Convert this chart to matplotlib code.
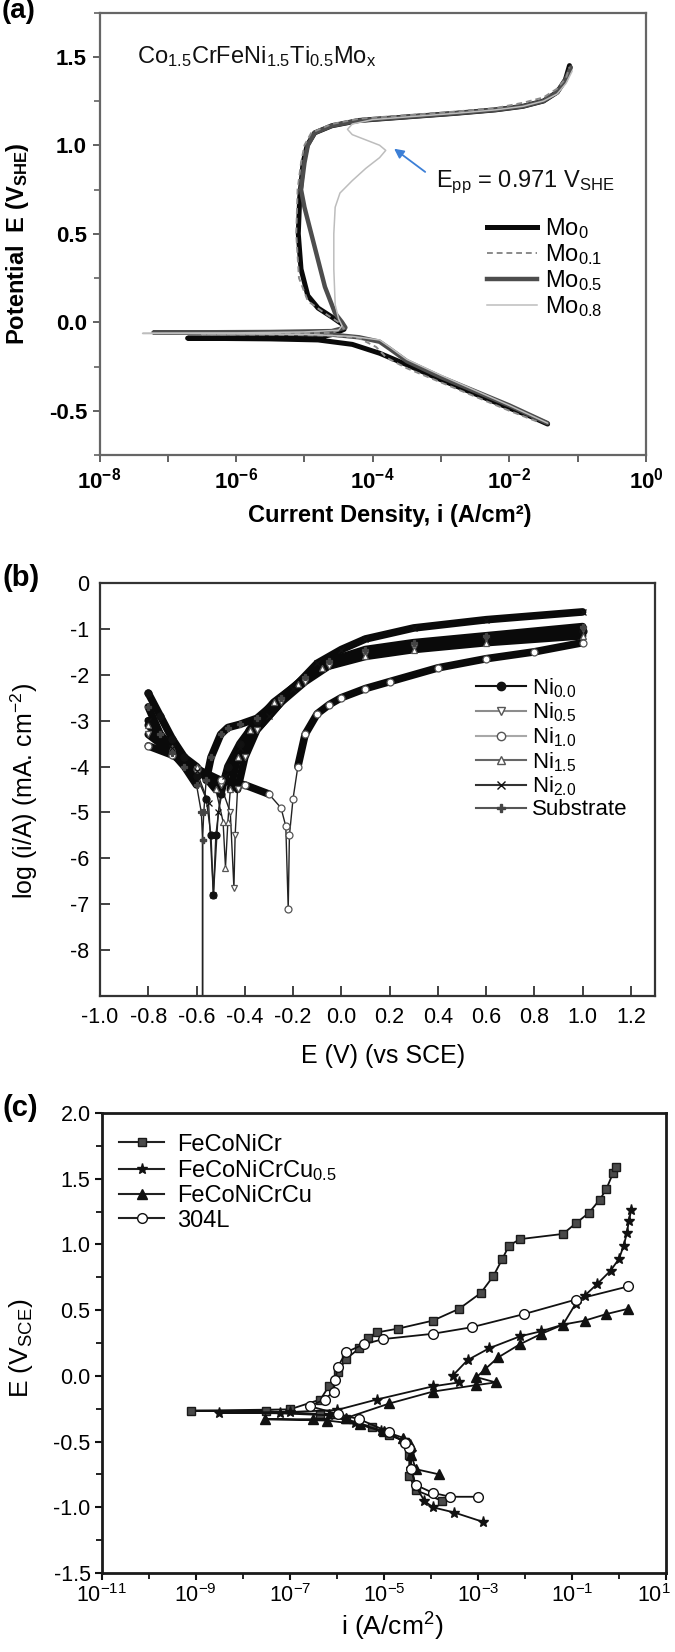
import numpy as np
import matplotlib
matplotlib.use("Agg")
import matplotlib.pyplot as plt
from matplotlib.lines import Line2D
from matplotlib.ticker import NullFormatter, NullLocator
from matplotlib.transforms import ScaledTranslation

plt.rcParams['font.family'] = ['Liberation Sans', 'DejaVu Sans']
plt.rcParams['mathtext.fontset'] = 'custom'
plt.rcParams['mathtext.rm'] = 'Liberation Sans'
plt.rcParams['mathtext.it'] = 'Liberation Sans:italic'
plt.rcParams['mathtext.bf'] = 'Liberation Sans:bold'

W, H = 675, 1652

# ---------------- Panel (a) data: log10(i) [A/cm2], E [V_SHE] ----------------
mo0_logi = [-1.44, -1.7, -2.0, -2.5, -3.0, -3.5, -3.9, -4.3, -4.8, -5.5, -6.71, -5.5, -4.8,
            -4.6, -4.42, -4.45, -4.6, -4.8, -4.95, -5.05, -5.09, -5.07, -5.02, -4.96, -4.85,
            -4.6, -4.2, -3.5, -2.8, -2.2, -1.8, -1.5, -1.3, -1.18, -1.12]
mo0_E = [-0.575, -0.53, -0.485, -0.405, -0.325, -0.24, -0.175, -0.125, -0.1, -0.094, -0.09,
         -0.087, -0.085, -0.07, -0.04, -0.01, 0.03, 0.08, 0.15, 0.3, 0.5, 0.7, 0.9, 1.0, 1.07,
         1.11, 1.14, 1.16, 1.18, 1.2, 1.22, 1.25, 1.3, 1.37, 1.45]

mo01_logi = [-1.6, -2.0, -2.5, -3.0, -3.5, -3.8, -3.95, -4.2, -4.6, -5.5, -6.5, -5.5, -4.6,
             -4.42, -4.5, -4.7, -4.95, -5.08, -5.12, -5.1, -5.05, -5.0, -4.9, -4.6, -4.2,
             -3.5, -2.8, -2.2, -1.8, -1.5, -1.3, -1.17, -1.12]
mo01_E = [-0.56, -0.5, -0.42, -0.34, -0.26, -0.2, -0.14, -0.09, -0.075, -0.07, -0.068, -0.065,
          -0.06, -0.035, 0.0, 0.05, 0.12, 0.25, 0.5, 0.75, 0.9, 1.0, 1.07, 1.12, 1.15, 1.17,
          1.19, 1.21, 1.24, 1.27, 1.32, 1.38, 1.44]

mo05_logi = [-1.44, -2.0, -2.5, -3.0, -3.5, -3.75, -3.9, -4.2, -4.6, -5.5, -7.21, -5.5, -4.6,
             -4.4, -4.45, -4.55, -4.6, -4.7, -4.8, -4.9, -5.0, -5.05, -5.0, -4.95, -4.85,
             -4.6, -4.2, -3.5, -2.8, -2.2, -1.8, -1.5, -1.3, -1.18, -1.1]
mo05_E = [-0.57, -0.47, -0.39, -0.31, -0.22, -0.15, -0.11, -0.085, -0.07, -0.062, -0.058,
          -0.055, -0.05, -0.03, 0.0, 0.05, 0.1, 0.2, 0.35, 0.5, 0.65, 0.75, 0.9, 1.0, 1.07,
          1.11, 1.14, 1.16, 1.18, 1.2, 1.22, 1.25, 1.3, 1.37, 1.44]

mo08_logi = [-1.44, -2.0, -2.5, -3.0, -3.5, -3.75, -3.9, -4.3, -5.0, -6.0, -7.37, -6.0, -5.0,
             -4.5, -4.45, -4.5, -4.55, -4.57, -4.57, -4.55, -4.48, -4.3, -4.1, -3.9, -3.81,
             -3.9, -4.1, -4.3, -4.37, -4.3, -4.0, -3.5, -2.8, -2.2, -1.8, -1.5, -1.3, -1.17,
             -1.08]
mo08_E = [-0.57, -0.47, -0.385, -0.3, -0.21, -0.14, -0.1, -0.08, -0.068, -0.065, -0.063,
          -0.06, -0.055, -0.045, -0.02, 0.02, 0.1, 0.3, 0.5, 0.65, 0.73, 0.8, 0.87, 0.93,
          0.971, 1.0, 1.03, 1.06, 1.09, 1.12, 1.145, 1.16, 1.18, 1.2, 1.22, 1.25, 1.29, 1.35,
          1.42]

a_labels = ['Mo$_0$', 'Mo$_{0.1}$', 'Mo$_{0.5}$', 'Mo$_{0.8}$']

# ---------------- Panel (b) data: E [V vs SCE], log(i) ----------------
ni00_E = [-0.8, -0.75, -0.7, -0.65, -0.6, -0.56, -0.54, -0.53, -0.52, -0.5, -0.47, -0.42,
          -0.35, -0.25, -0.15, -0.05, 0.1, 0.3, 0.6, 1.0]
ni00_L = [-2.4, -2.9, -3.4, -3.8, -4.2, -4.7, -5.5, -6.8, -5.5, -4.6, -4.0, -3.5, -3.0,
          -2.5, -2.1, -1.75, -1.5, -1.35, -1.2, -1.05]

ni05_E = [-0.8, -0.7, -0.6, -0.5, -0.46, -0.445, -0.44, -0.43, -0.4, -0.35, -0.25, -0.15,
          -0.05, 0.1, 0.3, 0.6, 1.0]
ni05_L = [-3.3, -3.7, -4.05, -4.4, -5.0, -6.65, -5.5, -4.5, -3.8, -3.2, -2.6, -2.15, -1.8,
          -1.55, -1.4, -1.2, -1.0]

ni10_E = [-0.8, -0.7, -0.6, -0.5, -0.4, -0.3, -0.25, -0.23, -0.22, -0.215, -0.2, -0.18,
          -0.15, -0.1, -0.05, 0.0, 0.1, 0.2, 0.4, 0.6, 0.8, 1.0]
ni10_L = [-3.55, -3.75, -4.05, -4.3, -4.4, -4.6, -4.9, -5.3, -7.1, -5.5, -4.7, -4.0, -3.3,
          -2.85, -2.65, -2.5, -2.3, -2.15, -1.85, -1.65, -1.5, -1.3]

ni15_E = [-0.8, -0.7, -0.6, -0.52, -0.49, -0.48, -0.47, -0.46, -0.43, -0.38, -0.28, -0.18,
          -0.08, 0.1, 0.3, 0.6, 1.0]
ni15_L = [-3.1, -3.6, -4.0, -4.5, -5.2, -6.2, -5.2, -4.5, -3.8, -3.2, -2.6, -2.2, -1.85,
          -1.6, -1.45, -1.3, -1.15]

ni20_E = [-0.8, -0.7, -0.6, -0.55, -0.53, -0.51, -0.48, -0.42, -0.3, -0.2, -0.1, 0.0, 0.1,
          0.3, 0.6, 1.0]
ni20_L = [-3.0, -3.6, -4.1, -4.8, -6.8, -5.0, -4.2, -3.6, -2.9, -2.3, -1.75, -1.45, -1.22,
          -0.98, -0.8, -0.63]

sub_E = [-0.8, -0.75, -0.7, -0.65, -0.6, -0.58, -0.575, -0.575, -0.575, -0.57, -0.56, -0.54,
         -0.5, -0.47, -0.42, -0.35, -0.25, -0.15, -0.05, 0.1, 0.3, 0.6, 1.0]
sub_L = [-2.7, -3.3, -3.7, -4.0, -4.4, -5.0, -5.6, -9.5, -5.6, -5.0, -4.3, -3.8, -3.3,
         -3.15, -3.08, -2.95, -2.5, -2.05, -1.7, -1.45, -1.3, -1.15, -0.95]

b_labels = ['Ni$_{0.0}$', 'Ni$_{0.5}$', 'Ni$_{1.0}$', 'Ni$_{1.5}$', 'Ni$_{2.0}$', 'Substrate']
b_xticks = [-1.0, -0.8, -0.6, -0.4, -0.2, 0.0, 0.2, 0.4, 0.6, 0.8, 1.0, 1.2]
b_yticks = [0, -1, -2, -3, -4, -5, -6, -7, -8]

# ---------------- Panel (c) data: log10(i) [A/cm2], E [V_SCE] ----------------
c1_logi = [-3.77, -4.32, -4.46, -4.46, -4.55, -4.88, -5.25, -5.8, -6.35, -7.5, -9.1, -7.0,
           -6.35, -6.17, -5.98, -5.8, -5.52, -5.34, -5.15, -4.69, -3.96, -3.4, -2.94, -2.67,
           -2.48, -2.34, -2.11, -1.19, -0.92, -0.64, -0.41, -0.27, -0.13, -0.07]
c1_E = [-0.95, -0.87, -0.76, -0.6, -0.5, -0.45, -0.39, -0.33, -0.29, -0.27, -0.265, -0.255,
        -0.18, -0.08, 0.03, 0.13, 0.21, 0.29, 0.33, 0.36, 0.42, 0.51, 0.63, 0.76, 0.89, 0.99,
        1.04, 1.08, 1.16, 1.24, 1.34, 1.42, 1.54, 1.59]

c2_logi = [-2.9, -3.5, -3.96, -4.14, -4.32, -4.42, -4.42, -4.6, -5.06, -5.61, -6.17, -7.2,
           -8.5, -7.0, -6.0, -5.15, -3.96, -3.4, -3.54, -3.22, -2.76, -2.11, -1.65, -1.19,
           -0.92, -0.73, -0.46, -0.18, 0.0, 0.1, 0.17, 0.21, 0.26]
c2_E = [-1.11, -1.04, -1.0, -0.95, -0.84, -0.71, -0.58, -0.49, -0.42, -0.36, -0.3, -0.285,
        -0.28, -0.275, -0.26, -0.18, -0.08, -0.05, 0.0, 0.12, 0.21, 0.3, 0.34, 0.39, 0.55,
        0.61, 0.7, 0.8, 0.89, 0.99, 1.09, 1.18, 1.26]

c3_logi = [-3.82, -4.32, -4.42, -4.45, -4.6, -5.0, -5.5, -6.2, -7.53, -6.5, -5.8, -4.88,
           -3.96, -3.03, -2.62, -3.03, -2.85, -2.57, -2.11, -1.65, -1.19, -0.73, -0.27, 0.19]
c3_E = [-0.75, -0.71, -0.6, -0.52, -0.47, -0.42, -0.37, -0.34, -0.33, -0.33, -0.32, -0.21,
        -0.12, -0.07, -0.05, -0.01, 0.05, 0.14, 0.24, 0.32, 0.39, 0.42, 0.47, 0.51]

c4_logi = [-2.99, -3.59, -3.96, -4.32, -4.42, -4.46, -4.55, -4.88, -5.52, -5.98, -6.58,
           -6.26, -6.07, -6.03, -5.98, -5.8, -5.43, -5.01, -3.96, -3.13, -2.02, -0.92, 0.19]
c4_E = [-0.92, -0.92, -0.89, -0.83, -0.71, -0.55, -0.51, -0.43, -0.33, -0.29, -0.23, -0.18,
        -0.12, -0.03, 0.07, 0.18, 0.24, 0.28, 0.32, 0.37, 0.47, 0.58, 0.68]

c_labels = ['FeCoNiCr', 'FeCoNiCrCu$_{0.5}$', 'FeCoNiCrCu', '304L']
c_xexp = list(range(-11, 2))
c_yticks = [-1.5, -1.0, -0.5, 0.0, 0.5, 1.0, 1.5, 2.0]

# ---------------- Figure ----------------
fig = plt.figure(figsize=(W / 100, H / 100), dpi=100)


def box(x0, y0, x1, y1):
    return [x0 / W, 1 - y1 / H, (x1 - x0) / W, (y1 - y0) / H]


def fx(px):
    return px / W


def fy(py):
    return 1 - py / H


# ===== Panel (a) =====
axa = fig.add_axes(box(99.5, 12.5, 646, 455))
axa.set_xscale('log')
a_series = [
    (mo0_logi, mo0_E, dict(color='#0a0a0a', lw=3.6, ls='-')),
    (mo01_logi, mo01_E, dict(color='#8a8a8a', lw=1.4, ls=(0, (3, 2)))),
    (mo05_logi, mo05_E, dict(color='#4d4d4d', lw=3.2, ls='-')),
    (mo08_logi, mo08_E, dict(color='#bdbdbd', lw=1.1, ls='-')),
]
for idx in [0, 2, 1, 3]:
    li, ee, st = a_series[idx]
    axa.plot(10 ** np.array(li), ee, solid_capstyle='round', **st)
axa.set_xlim(1e-8, 1e0)
axa.set_ylim(-0.75, 1.75)
axa.set_yticks([-0.5, 0.0, 0.5, 1.0, 1.5])
axa.set_yticklabels(['-0.5', '0.0', '0.5', '1.0', '1.5'])
axa.set_yticks([-0.75, -0.25, 0.25, 0.75, 1.25, 1.75], minor=True)
xt = [10.0 ** k for k in range(-8, 1)]
axa.set_xticks(xt)
axa.set_xticklabels([r'$\mathbf{10^{%d}}$' % k if k % 2 == 0 else '' for k in range(-8, 1)])
axa.xaxis.set_minor_locator(NullLocator())
axa.xaxis.set_minor_formatter(NullFormatter())
for lab in axa.get_yticklabels():
    lab.set_fontweight('bold')
axa.tick_params(axis='both', which='major', direction='out', length=5, width=1.3,
                color='#555555', labelsize=16, pad=4)
axa.tick_params(axis='y', which='minor', direction='out', length=4, width=1.1, color='#555555')
for s in axa.spines.values():
    s.set_color('#666666')
    s.set_linewidth(1.6)
axa.text(10 ** -7.45, 1.5, r'Co$_{1.5}$CrFeNi$_{1.5}$Ti$_{0.5}$Mo$_\mathrm{x}$', fontsize=17,
         ha='left', va='center', color='#111111')
axa.text(10 ** -3.08, 0.79, r'E$_\mathrm{pp}$ = 0.971 V$_\mathrm{SHE}$', fontsize=17,
         ha='left', va='center', color='#111111')
axa.annotate('', xy=(10 ** -3.72, 0.99), xytext=(10 ** -3.2, 0.84),
             arrowprops=dict(arrowstyle='-|>', color='#3c7fd6', lw=1.3, mutation_scale=14))
a_handles = [Line2D([], [], **a_series[i][2]) for i in range(4)]
axa.legend(a_handles, a_labels, loc='upper left', bbox_to_anchor=(0.709, 0.54), frameon=False,
           fontsize=17, handlelength=2.1, handletextpad=0.35, labelspacing=0.05,
           borderpad=0, borderaxespad=0)
fig.text(fx(390), fy(516), 'Current Density, i (A/cm²)', fontsize=17, fontweight='bold',
         ha='center', va='center')
fig.text(fx(18), fy(244), r'Potential  E ($\mathbf{V_{SHE}}$)', fontsize=17, fontweight='bold',
         ha='center', va='center', rotation=90)
fig.text(fx(2), fy(11), '(a)', fontsize=20, fontweight='bold', ha='left', va='center')

# ===== Panel (b) =====
axb = fig.add_axes(box(100, 583, 655, 996))
b_series = [
    (ni00_E, ni00_L, dict(marker='o', mfc='#111111', mec='#111111', color='#111111')),
    (ni05_E, ni05_L, dict(marker='v', mfc='white', mec='#555555', color='#8c8c8c')),
    (ni10_E, ni10_L, dict(marker='o', mfc='white', mec='#555555', color='#a8a8a8')),
    (ni15_E, ni15_L, dict(marker='^', mfc='white', mec='#555555', color='#666666')),
    (ni20_E, ni20_L, dict(marker='x', mfc='#111111', mec='#111111', color='#333333')),
    (sub_E, sub_L, dict(marker='P', mfc='#444444', mec='#444444', color='#555555')),
]
for ee, ll, st in b_series:
    ee = np.array(ee)
    ll = np.array(ll)
    band = np.where(ll > -4.7, ll, np.nan)
    axb.plot(ee, ll, color='#222222', lw=1.0, zorder=2)
    axb.plot(ee, band, color='#0a0a0a', lw=5.5, solid_capstyle='round', zorder=3)
    axb.plot(ee, ll, ls='none', marker=st['marker'], mfc=st['mfc'], mec=st['mec'],
             ms=5, mew=0.9, zorder=4)
axb.set_xlim(-1.0, 1.3)
axb.set_ylim(-9, 0)
axb.set_xticks(b_xticks)
axb.set_xticklabels(['%.1f' % v for v in b_xticks])
axb.set_yticks(b_yticks)
axb.set_yticklabels(['%d' % v for v in b_yticks])
axb.tick_params(axis='both', direction='in', length=7, width=1.3, color='#333333',
                labelsize=15.5, pad=8)
for s in axb.spines.values():
    s.set_color('#333333')
    s.set_linewidth(1.6)
b_handles = [Line2D([], [], color=st['color'], lw=1.5, marker=st['marker'], mfc=st['mfc'],
                    mec=st['mec'], ms=6, mew=1.0) for _, _, st in b_series]
axb.legend(b_handles, b_labels, loc='upper left', bbox_to_anchor=(0.677, 0.775),
           frameon=False, fontsize=16, handlelength=2.25, handletextpad=0.27,
           labelspacing=0.05, borderpad=0, borderaxespad=0)
fig.text(fx(383), fy(1056), 'E (V) (vs SCE)', fontsize=18, ha='center', va='center')
fig.text(fx(24), fy(791), r'log (i/A) (mA. cm$^{-2}$)', fontsize=18, ha='center',
         va='center', rotation=90)
fig.text(fx(2), fy(578), '(b)', fontsize=21, fontweight='bold', ha='left', va='center')

# ===== Panel (c) =====
axc = fig.add_axes(box(101.7, 1113, 666, 1573))
axc.set_xscale('log')
c_series = [
    (c1_logi, c1_E, dict(marker='s', mfc='#4a4a4a', mec='#1a1a1a', ms=6)),
    (c2_logi, c2_E, dict(marker='*', mfc='#111111', mec='#111111', ms=8)),
    (c3_logi, c3_E, dict(marker='^', mfc='#111111', mec='#111111', ms=7)),
    (c4_logi, c4_E, dict(marker='o', mfc='white', mec='#111111', ms=7)),
]
for li, ee, st in c_series:
    axc.plot(10 ** np.array(li), ee, color='#111111', lw=1.3, **st)
axc.set_xlim(1e-11, 1e1)
axc.set_ylim(-1.5, 2.0)
axc.set_xticks([10.0 ** k for k in c_xexp if k % 2 != 0])
axc.set_xticklabels([r'$10^{%d}$' % k for k in c_xexp if k % 2 != 0])
axc.set_xticks([10.0 ** k for k in c_xexp if k % 2 == 0], minor=True)
axc.xaxis.set_minor_formatter(NullFormatter())
axc.set_yticks(c_yticks)
axc.set_yticklabels(['%.1f' % v for v in c_yticks])
axc.set_yticks([-1.25, -0.75, -0.25, 0.25, 0.75, 1.25, 1.75], minor=True)
axc.yaxis.set_minor_formatter(NullFormatter())
axc.tick_params(axis='both', which='major', direction='out', length=5, width=1.5,
                color='#111111', labelsize=15.5, pad=3)
axc.tick_params(axis='both', which='minor', direction='out', length=4, width=1.3,
                color='#111111')
# keep the last x label inside the image
last_lab = axc.get_xticklabels()[-1]
last_lab.set_transform(last_lab.get_transform() + ScaledTranslation(-9 / 72, 0, fig.dpi_scale_trans))
for s in axc.spines.values():
    s.set_color('#1a1a1a')
    s.set_linewidth(2.0)
c_handles = [Line2D([], [], color='#222222', lw=1.5, **st) for _, _, st in c_series]
axc.legend(c_handles, c_labels, loc='upper left', bbox_to_anchor=(0.031, 0.955),
           frameon=False, fontsize=17, handlelength=1.9, handletextpad=0.55,
           labelspacing=0.1, borderpad=0, borderaxespad=0)
fig.text(fx(392), fy(1627), 'i (A/cm$^2$)', fontsize=19, ha='center', va='center')
fig.text(fx(21), fy(1348), r'E (V$_\mathrm{SCE}$)', fontsize=19, ha='center', va='center',
         rotation=90)
fig.text(fx(2), fy(1108), '(c)', fontsize=21, fontweight='bold', ha='left', va='center')

fig.savefig('out.png', dpi=100)
